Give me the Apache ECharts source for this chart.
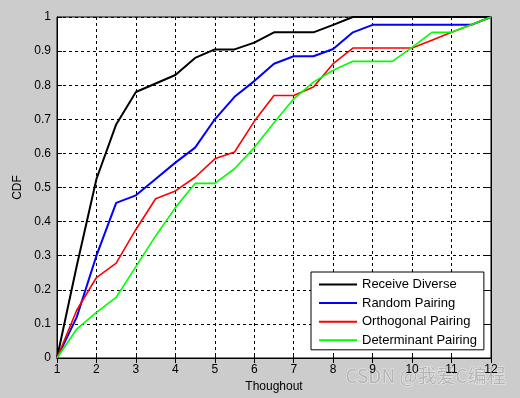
<!DOCTYPE html>
<html>
<head>
<meta charset="utf-8">
<script src="https://cdn.jsdelivr.net/npm/echarts@6/dist/echarts.min.js"></script>
<style>
  html, body { margin: 0; padding: 0; background: #cccccc; }
  #main { width: 520px; height: 398px; }
</style>
</head>
<body>
<div id="main"></div>
<script>
// x positions (throughput), sampled every 0.5
const xs = [1, 1.5, 2, 2.5, 3, 3.5, 4, 4.5, 5, 5.5, 6, 6.5, 7, 7.5, 8, 8.5, 9, 9.5, 10, 10.5, 11, 11.5, 12]

// CDF values
const receiveDiverse = [0, 0.27, 0.525, 0.685, 0.78, 0.805, 0.83, 0.88, 0.905, 0.905, 0.925, 0.955, 0.955, 0.955, 0.977, 1, 1, 1, 1, 1, 1, 1, 1]
const randomPairing = [0, 0.12, 0.30, 0.455, 0.477, 0.525, 0.573, 0.617, 0.70, 0.766, 0.812, 0.863, 0.885, 0.885, 0.906, 0.955, 0.977, 0.977, 0.977, 0.977, 0.977, 0.977, 1]
const orthogonalPairing = [0, 0.14, 0.236, 0.278, 0.377, 0.467, 0.49, 0.53, 0.584, 0.604, 0.694, 0.77, 0.77, 0.795, 0.863, 0.909, 0.909, 0.909, 0.909, 0.932, 0.955, 0.977, 1]
const determinantPairing = [0, 0.085, 0.134, 0.178, 0.268, 0.358, 0.441, 0.512, 0.512, 0.555, 0.617, 0.69, 0.76, 0.809, 0.844, 0.87, 0.87, 0.87, 0.911, 0.955, 0.955, 0.977, 1]

const seriesNames = ['Receive Diverse', 'Random Pairing', 'Orthogonal Pairing', 'Determinant Pairing']
const seriesColors = ['#000000', '#0000ff', '#ff0000', '#00ff00']
const seriesData = [receiveDiverse, randomPairing, orthogonalPairing, determinantPairing]

const font = 'Arial, "Liberation Sans", sans-serif'

const chart = echarts.init(document.getElementById('main'))

const dashed = { show: true, lineStyle: { color: '#000', type: [3, 3], width: 1 } }
const boxAxis = { lineStyle: { color: '#000', width: 1 } }

const option = {
  backgroundColor: '#cccccc',
  animation: false,
  textStyle: { fontFamily: font },
  grid: {
    left: 57, right: 29, top: 17, bottom: 39,
    show: true, backgroundColor: '#ffffff', borderColor: '#000', borderWidth: 1
  },
  legend: {
    orient: 'vertical',
    left: 311, top: 272,
    data: seriesNames,
    icon: 'rect',
    itemWidth: 38, itemHeight: 2,
    itemGap: 5.6,
    padding: [6, 7, 3, 8],
    backgroundColor: '#ffffff',
    borderColor: '#000', borderWidth: 1,
    textStyle: { color: '#000', fontSize: 13, fontFamily: font }
  },
  xAxis: [
    {
      type: 'value', min: 1, max: 12, interval: 1,
      name: 'Thoughout', nameLocation: 'middle', nameGap: 23,
      nameTextStyle: { color: '#000', fontSize: 12 },
      axisLine: boxAxis,
      axisTick: { inside: true, length: 5, lineStyle: { color: '#000' } },
      axisLabel: { color: '#000', fontSize: 12, margin: 6 },
      splitLine: dashed
    },
    {
      type: 'value', min: 1, max: 12, interval: 1, position: 'top',
      axisLine: boxAxis,
      axisTick: { inside: true, length: 5, lineStyle: { color: '#000' } },
      axisLabel: { show: false }, splitLine: { show: false }
    }
  ],
  yAxis: [
    {
      type: 'value', min: 0, max: 1, interval: 0.1,
      name: 'CDF', nameLocation: 'middle', nameGap: 32,
      nameTextStyle: { color: '#000', fontSize: 12 },
      axisLine: boxAxis,
      axisTick: { inside: true, length: 5, lineStyle: { color: '#000' } },
      axisLabel: { color: '#000', fontSize: 12, margin: 6 },
      splitLine: dashed
    },
    {
      type: 'value', min: 0, max: 1, interval: 0.1, position: 'right',
      axisLine: boxAxis,
      axisTick: { inside: true, length: 5, lineStyle: { color: '#000' } },
      axisLabel: { show: false }, splitLine: { show: false }
    }
  ],
  graphic: [{
    type: 'text', right: 14, top: 366, silent: true,
    style: {
      text: 'CSDN @我爱C编程', fontSize: 19,
      fontFamily: '"Noto Sans CJK SC", sans-serif',
      fill: '#b4b4b4', stroke: '#eeeeee', lineWidth: 1
    }
  }],
  series: seriesNames.map((name, i) => ({
    name,
    type: 'line',
    symbol: 'none',
    data: xs.map((x, j) => [x, seriesData[i][j]]),
    lineStyle: { color: seriesColors[i], width: i < 2 ? 2 : 1.6 },
    itemStyle: { color: seriesColors[i] }
  }))
}

option && chart.setOption(option)
</script>
</body>
</html>
